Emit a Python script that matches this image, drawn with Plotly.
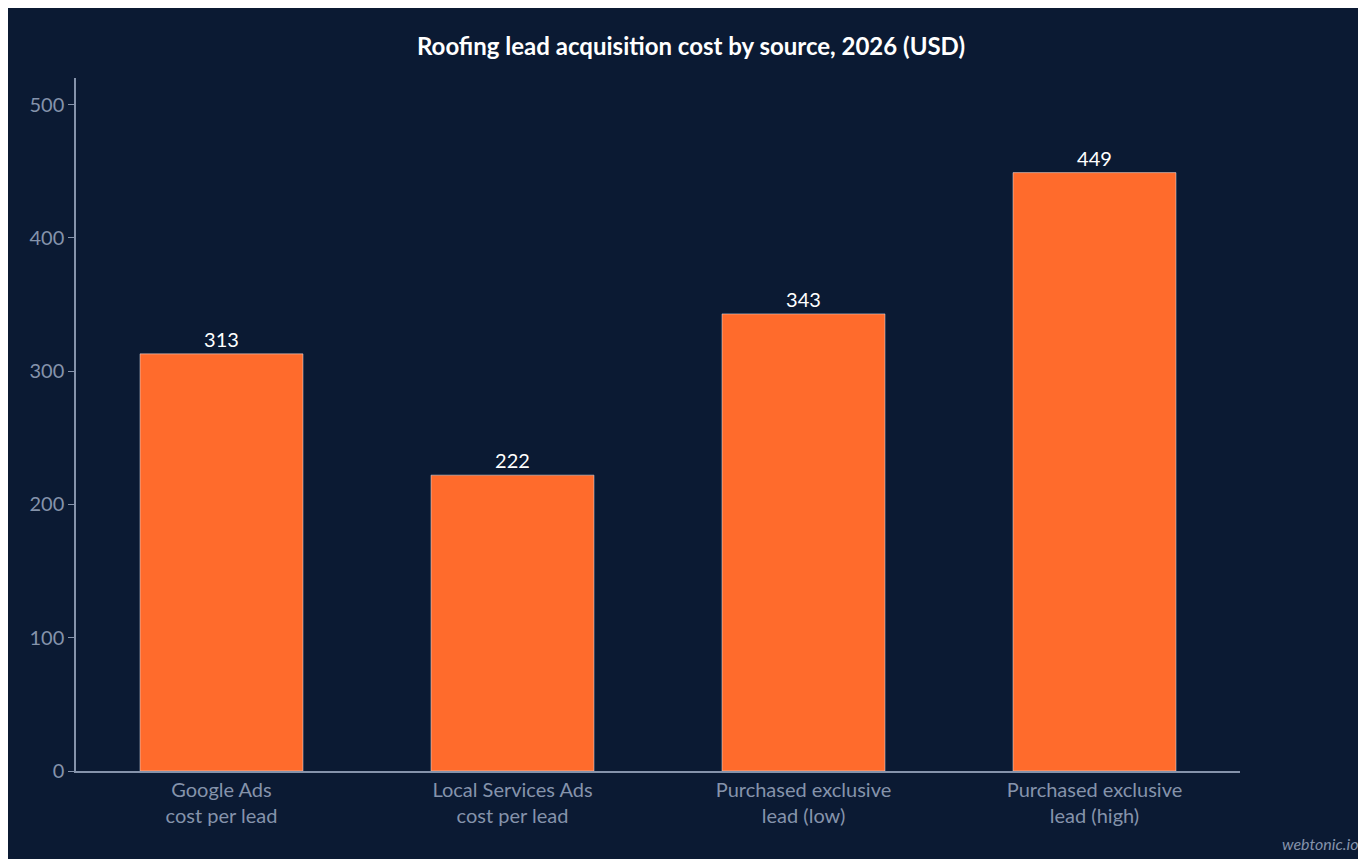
import plotly.graph_objects as go

sources = ['Google Ads<br>cost per lead', 'Local Services Ads<br>cost per lead',
           'Purchased exclusive<br>lead (low)', 'Purchased exclusive<br>lead (high)']
costs = [313, 222, 343, 449]

bg = '#0b1a33'
tick_color = '#8593ab'

fig = go.Figure(go.Bar(
    x=sources, y=costs,
    marker_color='#ff6b2c',
    width=0.56,
    text=[str(c) for c in costs],
    textposition='outside',
    textfont=dict(color='white', size=20, family='Lato'),
    cliponaxis=False,
))

fig.update_layout(
    width=1366, height=859,
    paper_bgcolor=bg, plot_bgcolor=bg,
    font=dict(family='Lato', color=tick_color, size=18),
    title=dict(text='<b>Roofing lead acquisition cost by source, 2026 (USD)</b>',
               x=0.5, y=0.965, xanchor='center', font=dict(color='white', size=24)),
    margin=dict(l=68, r=134, t=70, b=96),
    showlegend=False,
    bargap=0.44,
)
fig.update_xaxes(showline=True, linecolor=tick_color, linewidth=1.5, ticks='',
                 tickfont=dict(size=20, color=tick_color), showgrid=False)
fig.update_yaxes(range=[0, 520], showline=True, linecolor=tick_color, linewidth=1.5,
                 ticks='outside', ticklen=6, tickcolor=tick_color, showgrid=False,
                 zeroline=False, dtick=100, tickfont=dict(size=20, color=tick_color))

fig.add_annotation(text='<i>webtonic.io</i>', xref='paper', yref='paper',
                   x=1366 / 1164 - 68 / 1164 - 0.012, y=-0.105, xanchor='right', yanchor='middle',
                   showarrow=False, font=dict(size=16, color=tick_color))

fig.write_html('out.html')
